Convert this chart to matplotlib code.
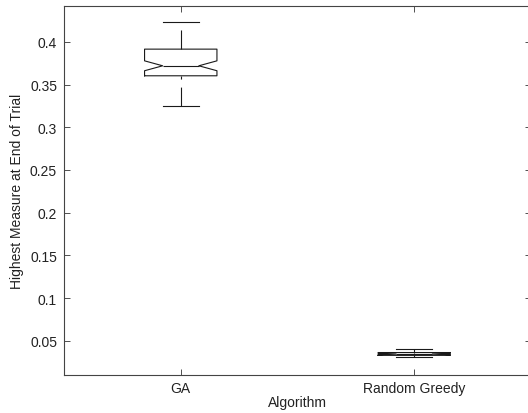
import matplotlib
matplotlib.use("Agg")
import matplotlib.pyplot as plt

plt.rcParams['font.family'] = ['Liberation Sans', 'DejaVu Sans']
plt.rcParams['lines.scale_dashes'] = False

# box statistics
algorithms = ["GA", "Random Greedy"]
medians = [0.3720, 0.0346]
q1s = [0.3603, 0.0330]
q3s = [0.3915, 0.0363]
whis_low = [0.3245, 0.0305]
whis_high = [0.4227, 0.0402]
notch_lo = [0.3662, 0.0338]
notch_hi = [0.3778, 0.0354]

stats = []
for i in range(len(algorithms)):
    stats.append(dict(label=algorithms[i], med=medians[i], q1=q1s[i], q3=q3s[i],
                      whislo=whis_low[i], whishi=whis_high[i],
                      cilo=notch_lo[i], cihi=notch_hi[i], fliers=[]))

fig = plt.figure(figsize=(5.28, 4.14), dpi=100)
ax = fig.add_axes([64/528, 38/414, 467/528, 369/414])

lc = '#1a1a1a'
res = ax.bxp(stats, positions=[1, 2], widths=0.31, shownotches=True,
             boxprops=dict(color=lc, linewidth=0.8),
             medianprops=dict(color=lc, linewidth=0.8),
             whiskerprops=dict(color=lc, linewidth=0.8),
             capprops=dict(color=lc, linewidth=0.8))

# dashed whiskers like matlab, lower one starts mid-dash
for j, w in enumerate(res['whiskers']):
    if j % 2 == 0:
        w.set_linestyle((11.5, (13.7, 5.8)))
    else:
        w.set_linestyle((0, (13.7, 5.8)))

ax.set_xlim(0.5, 2.5)
ax.set_ylim(0.0100, 0.4420)
ax.set_yticks([0.05, 0.1, 0.15, 0.2, 0.25, 0.3, 0.35, 0.4])
ax.set_yticklabels(['0.05', '0.1', '0.15', '0.2', '0.25', '0.3', '0.35', '0.4'])
ax.set_xticks([1, 2])
ax.set_xticklabels(algorithms)
ax.tick_params(direction='in', length=4, width=0.6, top=True, right=True,
               labelsize=10, colors='#333333', labelcolor='#222222', pad=5)
ax.tick_params(axis='x', pad=4)
for s in ax.spines.values():
    s.set_linewidth(0.8)
    s.set_color('#444444')

ax.set_xlabel("Algorithm", fontsize=10, color='#222222', labelpad=0)
ax.set_ylabel("Highest Measure at End of Trial", fontsize=10, color='#222222', labelpad=4)

fig.savefig("out.png", dpi=100)
